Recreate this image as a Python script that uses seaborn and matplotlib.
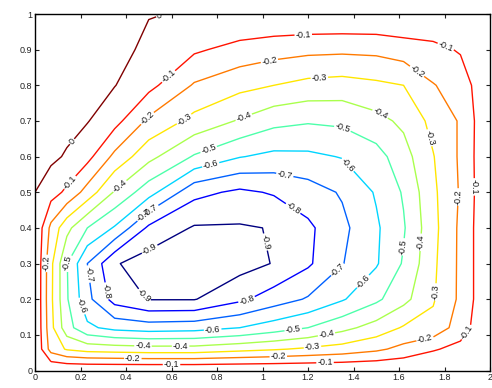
import numpy as np
import matplotlib
matplotlib.use("Agg")
import matplotlib.pyplot as plt
import seaborn as sns

# grid (non-uniform, finer near the walls)
x_vals = [0, 0.07, 0.14, 0.23, 0.35, 0.5, 0.7, 0.9, 1.05, 1.2, 1.35, 1.5, 1.62, 1.75, 1.87, 2.0]
y_vals = [0, 0.06, 0.12, 0.2, 0.3, 0.4, 0.5, 0.6, 0.7, 0.8, 0.9, 1.0]

# estimated field values, one row per y value
z_rows = [
    [0, 0, 0, 0, 0, 0, 0, 0, 0, 0, 0, 0, 0, 0, 0, 0],
    [0, -0.24, -0.31, -0.34, -0.35, -0.36, -0.36, -0.33, -0.31, -0.285, -0.26, -0.22, -0.17, -0.11, -0.07, 0],
    [0, -0.27, -0.46, -0.58, -0.63, -0.65, -0.64, -0.60, -0.55, -0.50, -0.43, -0.36, -0.29, -0.27, -0.15, 0],
    [0, -0.28, -0.49, -0.67, -0.84, -0.905, -0.905, -0.82, -0.75, -0.69, -0.61, -0.52, -0.43, -0.31, -0.18, 0],
    [0, -0.276, -0.495, -0.70, -0.89, -0.95, -0.96, -0.94, -0.895, -0.815, -0.705, -0.61, -0.49, -0.32, -0.18, 0],
    [0, -0.225, -0.37, -0.50, -0.61, -0.82, -0.91, -0.91, -0.895, -0.82, -0.725, -0.615, -0.51, -0.33, -0.18, 0],
    [0, -0.058, -0.12, -0.24, -0.41, -0.56, -0.77, -0.82, -0.79, -0.745, -0.69, -0.59, -0.49, -0.32, -0.19, 0],
    [0.04, 0.02, -0.01, -0.068, -0.225, -0.37, -0.51, -0.595, -0.625, -0.62, -0.595, -0.54, -0.44, -0.305, -0.185, 0],
    [0.06, 0.05, 0.03, 0.005, -0.065, -0.22, -0.33, -0.41, -0.47, -0.49, -0.48, -0.43, -0.38, -0.27, -0.19, 0],
    [0.07, 0.07, 0.06, 0.04, 0.003, -0.07, -0.21, -0.27, -0.30, -0.33, -0.34, -0.32, -0.30, -0.205, -0.16, 0],
    [0.08, 0.08, 0.07, 0.06, 0.04, -0.027, -0.085, -0.135, -0.16, -0.175, -0.18, -0.175, -0.15, -0.13, -0.09, 0],
    [0.08, 0.08, 0.08, 0.07, 0.05, 0.005, -0.01, 0, 0, 0, 0, 0, 0, 0, 0, 0],
]

levels = [-0.9, -0.8, -0.7, -0.6, -0.5, -0.4, -0.3, -0.2, -0.1, 0]
x_ticks = [0, 0.2, 0.4, 0.6, 0.8, 1, 1.2, 1.4, 1.6, 1.8, 2]
y_ticks = [0, 0.1, 0.2, 0.3, 0.4, 0.5, 0.6, 0.7, 0.8, 0.9, 1]

# where the inline labels sit in the reference
label_spots = [
    (0.167, 0.64), (0.55, 0.99),
    (0.58, 0.83), (0.154, 0.527), (1.18, 0.933), (1.8, 0.9), (1.925, 0.515),
    (1.9, 0.106), (1.275, 0.02), (0.6, 0.022),
    (0.49, 0.71), (1.03, 0.87), (1.68, 0.84), (1.855, 0.487), (1.71, 0.1),
    (1.07, 0.03), (0.43, 0.03), (0.06, 0.3),
    (0.65, 0.71), (1.25, 0.82), (1.736, 0.653), (1.767, 0.22), (1.22, 0.064),
    (0.36, 0.527), (0.914, 0.717), (1.52, 0.723), (1.71, 0.359), (1.28, 0.106), (0.64, 0.064),
    (0.756, 0.633), (1.363, 0.695), (1.617, 0.347), (1.134, 0.12), (0.475, 0.078), (0.145, 0.3),
    (0.77, 0.583), (1.38, 0.58), (1.45, 0.245), (0.78, 0.123), (0.185, 0.176),
    (1.1, 0.555), (0.5, 0.46), (1.33, 0.283), (0.23, 0.27),
    (0.505, 0.43), (1.13, 0.45), (0.93, 0.2), (0.29, 0.22),
    (0.5, 0.345), (1.01, 0.36), (0.48, 0.21),
]

sns.set_theme(style="ticks")
plt.rcParams['font.family'] = ['Liberation Sans', 'DejaVu Sans']

fig = plt.figure(figsize=(4.92, 3.88), dpi=100)
ax = fig.add_axes([35 / 492, 17.5 / 388, 455 / 492, 356.5 / 388])

cs = ax.contour(x_vals, y_vals, np.array(z_rows), levels=levels, cmap='jet', linewidths=1.0)
ax.clabel(cs, fmt='%g', fontsize=6.5, colors='k', inline=True, inline_spacing=1,
          manual=label_spots)

ax.set_xlim(0, 2)
ax.set_ylim(0, 1)
ax.set_xticks(x_ticks)
ax.set_xticklabels([f"{t:g}" for t in x_ticks])
ax.set_yticks(y_ticks)
ax.set_yticklabels([f"{t:g}" for t in y_ticks])
ax.tick_params(direction='in', top=True, right=True, length=3, width=0.8,
               labelsize=6.5, pad=2, colors='#222222')
for side in ax.spines.values():
    side.set_linewidth(1.0)
    side.set_color('black')

fig.savefig('out.png', dpi=100)
